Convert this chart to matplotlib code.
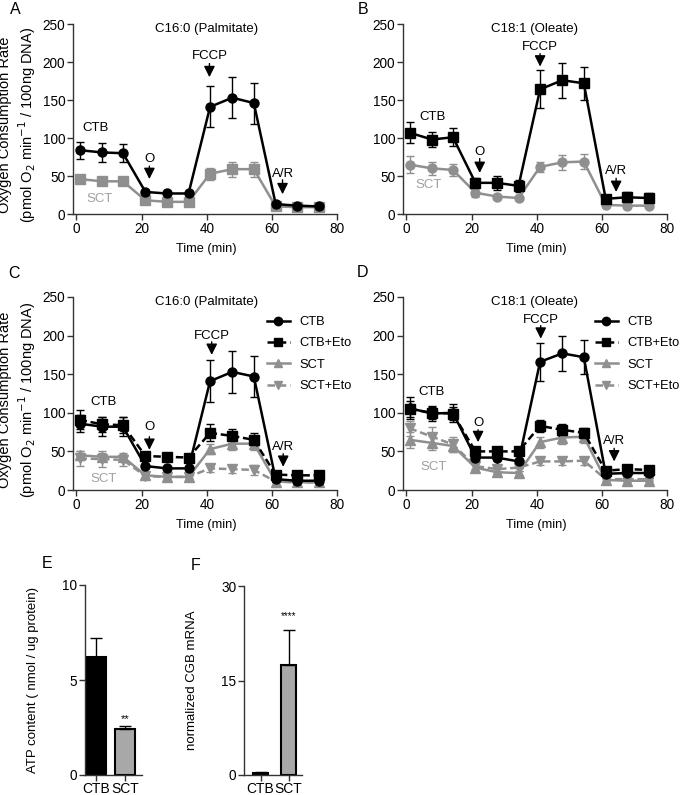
import matplotlib
matplotlib.use("Agg")
import matplotlib.pyplot as plt
from matplotlib.lines import Line2D

plt.rcParams['font.family'] = ['Liberation Sans', 'DejaVu Sans']
plt.rcParams['font.size'] = 9.5

# ---------------- data ----------------
time = [1.0, 7.9, 14.3, 21.2, 27.8, 34.4, 41.0, 47.8, 54.4, 61.1, 67.7, 74.4]

a_ctb = [84, 81, 80, 29, 27, 27, 141, 153, 146, 13, 11, 10]
a_ctb_err = [11, 12, 12, 2, 2, 2, 27, 27, 27, 2, 2, 2]
a_sct = [46, 43, 43, 18, 16, 16, 53, 59, 59, 10, 9, 9]
a_sct_err = [4, 3, 3, 2, 1, 1, 8, 10, 10, 1, 1, 1]

b_ctb = [107, 98, 101, 41, 41, 37, 164, 176, 172, 20, 22, 21]
b_ctb_err = [14, 10, 12, 6, 9, 8, 25, 23, 22, 4, 7, 6]
b_sct = [65, 60, 58, 28, 23, 21, 62, 68, 69, 12, 11, 11]
b_sct_err = [11, 9, 8, 5, 2, 2, 7, 10, 10, 1, 1, 1]

c_ctb = [86, 82, 82, 31, 28, 28, 141, 153, 147, 14, 12, 12]
c_ctb_err = [11, 12, 12, 2, 2, 2, 27, 27, 27, 2, 2, 2]
c_ctbeto = [91, 85, 84, 44, 43, 42, 74, 70, 65, 20, 19, 19]
c_ctbeto_err = [12, 10, 10, 4, 3, 4, 11, 9, 9, 3, 2, 2]
c_sct = [45, 43, 43, 19, 17, 17, 53, 60, 60, 11, 10, 10]
c_sct_err = [6, 5, 5, 2, 2, 2, 6, 8, 8, 1, 1, 1]
c_scteto = [41, 40, 39, 18, 17, 17, 28, 27, 26, 11, 10, 10]
c_scteto_err = [10, 10, 8, 3, 3, 3, 5, 5, 6, 1, 1, 1]

d_ctb = [106, 99, 100, 42, 42, 37, 166, 177, 172, 21, 22, 22]
d_ctb_err = [14, 10, 12, 6, 9, 8, 25, 23, 22, 4, 7, 6]
d_ctbeto = [105, 100, 99, 50, 50, 50, 83, 78, 74, 25, 27, 26]
d_ctbeto_err = [10, 8, 8, 5, 5, 5, 8, 8, 6, 3, 4, 4]
d_sct = [65, 61, 57, 29, 23, 22, 62, 68, 69, 13, 12, 12]
d_sct_err = [10, 9, 8, 5, 2, 2, 7, 8, 8, 1, 1, 1]
d_scteto = [80, 69, 59, 31, 27, 29, 37, 37, 38, 14, 14, 14]
d_scteto_err = [10, 12, 10, 4, 5, 4, 4, 5, 5, 2, 2, 2]

bar_cats = ['CTB', 'SCT']
atp_vals = [6.2, 2.4]
atp_err = [1.0, 0.2]
cgb_vals = [0.3, 17.5]
cgb_err = [0.1, 5.5]

BLACK = '#000000'
GRAY = '#8f8f8f'
BARGRAY = '#a8a8a8'
FS = 9.5

W, H = 685, 795
fig = plt.figure(figsize=(W / 100, H / 100), dpi=100)


def px_axes(x0, x1, y0, y1):
    return fig.add_axes([x0 / W, 1 - y1 / H, (x1 - x0) / W, (y1 - y0) / H])


def fig_label(x, y, s, **kw):
    fig.text(x / W, 1 - y / H, s, rotation=90, ha='center', va='center', **kw)


def style(ax):
    for s in ['top', 'right']:
        ax.spines[s].set_visible(False)
    for s in ['left', 'bottom']:
        ax.spines[s].set_linewidth(1.0)
        ax.spines[s].set_color('#333333')
    ax.tick_params(direction='out', length=4, width=1.0, labelsize=FS + 0.3, pad=1.5,
                   colors='#333333', labelcolor='black')


def series(ax, y, err, color, marker, ls='-', ms=6.5):
    ax.errorbar(time, y, yerr=err, color=color, marker=marker, ms=ms, lw=1.8,
                ls=ls, capsize=3, elinewidth=1.0, capthick=1.0,
                dashes=(3, 1.5) if ls == '--' else (None, None), clip_on=False, zorder=3)


def arrow(ax, x, y_start, y_end):
    ax.annotate('', xy=(x, y_end), xytext=(x, y_start),
                arrowprops=dict(arrowstyle='-|>,head_length=0.6,head_width=0.3',
                                mutation_scale=11, color='k', lw=1.0, shrinkA=0, shrinkB=0))


def time_axes(ax, title, tx=40):
    style(ax)
    ax.set_xlim(-1, 80.5)
    ax.set_ylim(0, 250)
    ax.set_xticks([0, 20, 40, 60, 80])
    ax.set_yticks([0, 50, 100, 150, 200, 250])
    ax.spines['bottom'].set_bounds(-1, 80)
    ax.text(tx, 244, title, ha='center', va='center', fontsize=FS)
    ax.set_xlabel('Time (min)', fontsize=9.2, labelpad=5)


def annots(ax, ctb_xy, sct_xy, o_xy, o_arr, fccp_xy, fccp_arr, ar_xy, ar_arr):
    ax.text(*ctb_xy, 'CTB', ha='center', va='center', fontsize=FS)
    ax.text(*sct_xy, 'SCT', ha='center', va='center', fontsize=FS, color='#a0a0a0')
    ax.text(*o_xy, 'O', ha='center', va='center', fontsize=FS)
    arrow(ax, o_xy[0], *o_arr)
    ax.text(*fccp_xy, 'FCCP', ha='center', va='center', fontsize=FS)
    arrow(ax, fccp_xy[0], *fccp_arr)
    ax.text(*ar_xy, 'A/R', ha='center', va='center', fontsize=FS)
    arrow(ax, ar_xy[0], *ar_arr)


OCR_LABEL = 'Oxygen Consumption Rate\n(pmol O$_2$ min$^{-1}$ / 100ng DNA)'

# ---------------- Panel A ----------------
axA = px_axes(73, 339, 24, 214)
time_axes(axA, 'C16:0 (Palmitate)')
series(axA, a_sct, a_sct_err, GRAY, 's')
series(axA, a_ctb, a_ctb_err, BLACK, 'o')
annots(axA, (5.9, 113), (7.2, 20), (22.4, 73), (63, 46), (40.8, 208), (198, 180),
       (63.2, 53), (45, 26))
fig_label(18, 125, OCR_LABEL, fontsize=10.5, linespacing=1.2)

# ---------------- Panel B ----------------
axB = px_axes(403, 669, 24, 214)
time_axes(axB, 'C18:1 (Oleate)', tx=39.3)
series(axB, b_sct, b_sct_err, GRAY, 'o')
series(axB, b_ctb, b_ctb_err, BLACK, 's')
annots(axB, (8.0, 128), (6.8, 38), (22.5, 82), (73, 54), (41, 220), (211, 194),
       (64.3, 56), (47, 29))

# ---------------- Panel C ----------------
axC = px_axes(73, 339, 297, 490)
time_axes(axC, 'C16:0 (Palmitate)')
series(axC, c_scteto, c_scteto_err, GRAY, 'v', ls='--')
series(axC, c_sct, c_sct_err, GRAY, '^')
series(axC, c_ctbeto, c_ctbeto_err, BLACK, 's', ls='--')
series(axC, c_ctb, c_ctb_err, BLACK, 'o')
annots(axC, (8.4, 114), (8.4, 14), (22.4, 81), (69, 52), (41.5, 200), (192, 175),
       (63.4, 56), (47, 30))
fig_label(18, 400, OCR_LABEL, fontsize=10.5, linespacing=1.2)

# ---------------- Panel D ----------------
axD = px_axes(403, 669, 297, 490)
time_axes(axD, 'C18:1 (Oleate)', tx=39.3)
series(axD, d_scteto, d_scteto_err, GRAY, 'v', ls='--')
series(axD, d_sct, d_sct_err, GRAY, '^')
series(axD, d_ctbeto, d_ctbeto_err, BLACK, 's', ls='--')
series(axD, d_ctb, d_ctb_err, BLACK, 'o')
annots(axD, (7.8, 127), (8.3, 30), (22, 87), (78, 62), (41.2, 220), (213, 196),
       (63.7, 64), (54, 37))

legend_labels = ['CTB', 'CTB+Eto', 'SCT', 'SCT+Eto']
handles = [
    Line2D([], [], color=BLACK, marker='o', lw=1.8, ms=6),
    Line2D([], [], color=BLACK, marker='s', lw=1.8, ms=6, ls='--', dashes=(3, 1.5)),
    Line2D([], [], color=GRAY, marker='^', lw=1.8, ms=6),
    Line2D([], [], color=GRAY, marker='v', lw=1.8, ms=6, ls='--', dashes=(3, 1.5)),
]
for ax, ax0, x0 in [(axC, 73, 267), (axD, 403, 595)]:
    ax.legend(handles, legend_labels, loc='upper left',
              bbox_to_anchor=((x0 - ax0) / 266, (490 - 316) / 193), frameon=False,
              fontsize=9.3, handlelength=1.75, handletextpad=0.75,
              labelspacing=0.72, borderaxespad=0, borderpad=0)

# ---------------- Panel E ----------------
axE = px_axes(85, 142, 585, 775)
style(axE)
axE.bar([0, 1], atp_vals, width=0.7, color=[BLACK, BARGRAY], edgecolor='black', lw=1.5,
        yerr=[[0, 0], atp_err], capsize=4, error_kw=dict(elinewidth=1.0, capthick=1.0))
axE.set_xlim(-0.4, 1.6)
axE.set_ylim(0, 10)
axE.set_yticks([0, 5, 10])
axE.set_xticks([0, 1])
axE.set_xticklabels(bar_cats)
axE.tick_params(axis='x', pad=1, labelsize=10)
axE.text(1, atp_vals[1] + atp_err[1] + 0.35, '**', ha='center', va='center', fontsize=8)
fig_label(33, 680, 'ATP content ( nmol / ug protein)', fontsize=9.5)

# ---------------- Panel F ----------------
axF = px_axes(244, 302, 586, 775)
style(axF)
axF.bar([0, 1], cgb_vals, width=0.54, color=[BLACK, BARGRAY], edgecolor='black', lw=1.5,
        yerr=[[0, 0], cgb_err], capsize=4, error_kw=dict(elinewidth=1.0, capthick=1.0))
axF.set_xlim(-0.59, 1.48)
axF.set_ylim(0, 30)
axF.set_yticks([0, 15, 30])
axF.set_xticks([0, 1])
axF.set_xticklabels(bar_cats)
axF.tick_params(axis='x', pad=1, labelsize=10)
axF.text(1, cgb_vals[1] + cgb_err[1] + 2.2, '****', ha='center', va='center', fontsize=7)
fig_label(192, 680, 'normalized CGB mRNA', fontsize=9.5)

# ---------------- panel letters ----------------
for letter, x, y in [('A', 15, 10), ('B', 363, 10), ('C', 14, 274), ('D', 363, 273),
                     ('E', 47, 563), ('F', 196, 566)]:
    fig.text(x / W, 1 - y / H, letter, ha='center', va='center', fontsize=11.5)

fig.savefig('out.png', dpi=100)
